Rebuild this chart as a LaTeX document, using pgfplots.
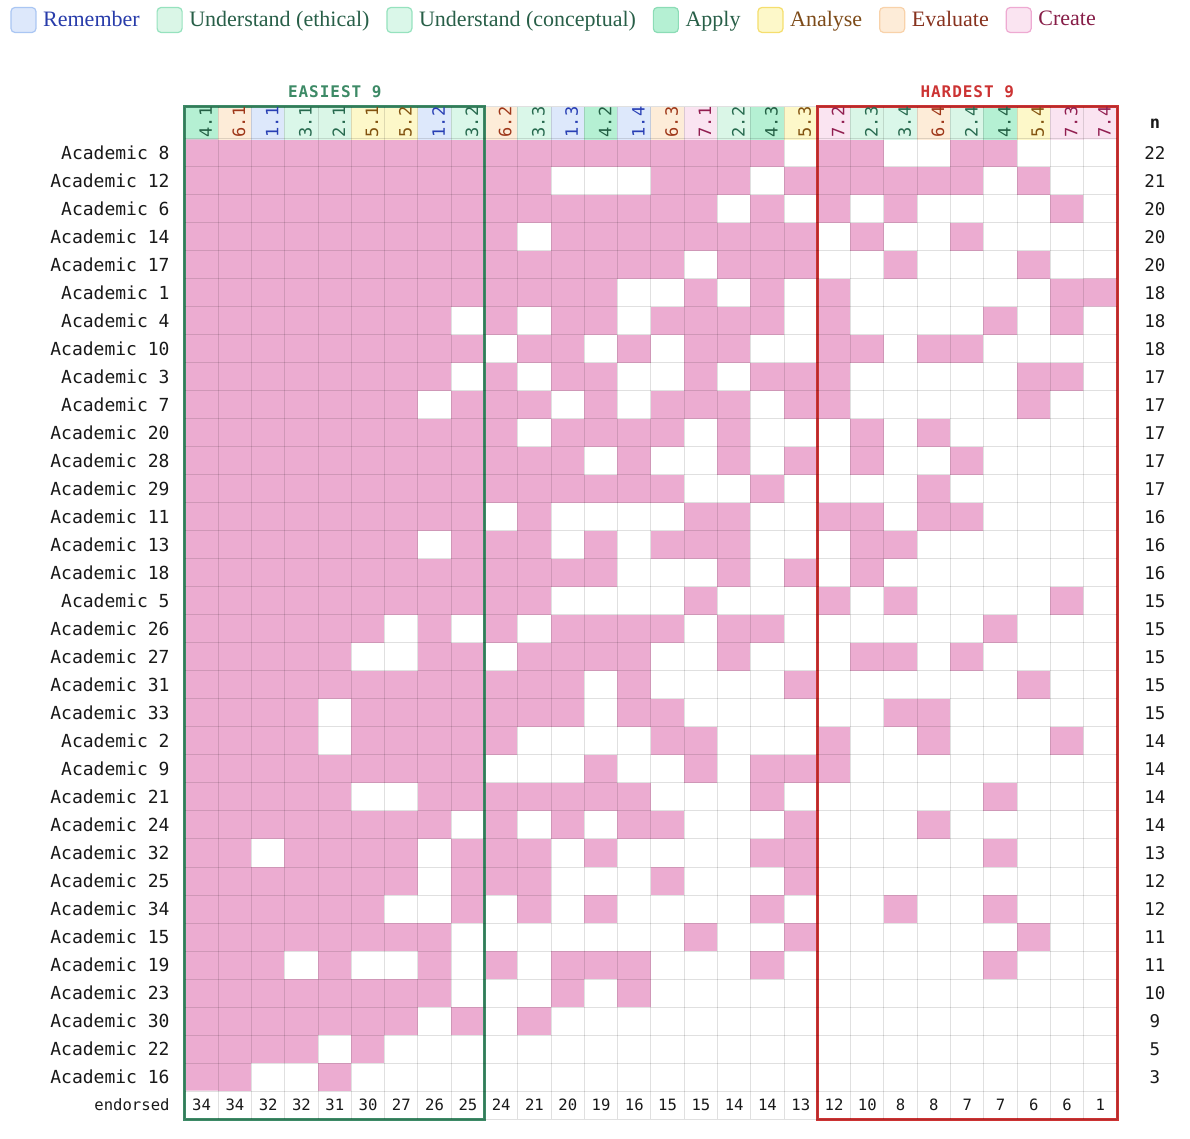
\documentclass[border=0pt]{standalone}
\usepackage{pgfplots}
\pgfplotsset{compat=1.18}
\usepackage{pgfplotstable}
\usepackage{fontspec}
\setmainfont{Liberation Serif}
\newfontfamily\mono{DejaVu Sans Mono}
\newfontfamily\monotitle{DejaVu Sans Mono}[LetterSpace=6]

% cell and category colours
\definecolor{cellpink}{RGB}{236,172,209}
\definecolor{remfill}{RGB}{221,232,251}\definecolor{remdraw}{RGB}{170,198,243}\definecolor{remtxt}{RGB}{40,60,170}
\definecolor{uetfill}{RGB}{218,246,231}\definecolor{uetdraw}{RGB}{150,226,190}\definecolor{uettxt}{RGB}{40,95,72}
\definecolor{ucofill}{RGB}{218,247,233}\definecolor{ucodraw}{RGB}{150,226,190}\definecolor{ucotxt}{RGB}{40,95,72}
\definecolor{apfill}{RGB}{181,240,211}\definecolor{apdraw}{RGB}{140,220,182}\definecolor{aptxt}{RGB}{40,95,72}
\definecolor{anfill}{RGB}{253,248,201}\definecolor{andraw}{RGB}{245,222,110}\definecolor{antxt}{RGB}{125,75,25}
\definecolor{evfill}{RGB}{253,236,216}\definecolor{evdraw}{RGB}{248,210,170}\definecolor{evtxt}{RGB}{135,50,30}
\definecolor{crfill}{RGB}{250,228,241}\definecolor{crdraw}{RGB}{238,170,210}\definecolor{crtxt}{RGB}{135,30,72}
% header label colours, indexed by category
\definecolor{lab2}{RGB}{40,62,180}
\definecolor{lab3}{RGB}{38,105,78}
\definecolor{lab4}{RGB}{38,105,78}
\definecolor{lab5}{RGB}{35,95,68}
\definecolor{lab6}{RGB}{130,82,15}
\definecolor{lab7}{RGB}{158,55,25}
\definecolor{lab8}{RGB}{145,30,80}
\definecolor{easygreen}{RGB}{61,138,102}
\definecolor{hardred}{RGB}{204,51,51}

% outcomes: label, Bloom category (2 remember ... 8 create), number endorsing
\pgfplotstableread{
col label cat endorsed
1 4.1 5 34
2 6.1 7 34
3 1.1 2 32
4 3.1 4 32
5 2.1 3 31
6 5.1 6 30
7 5.2 6 27
8 1.2 2 26
9 3.2 4 25
10 6.2 7 24
11 3.3 4 21
12 1.3 2 20
13 4.2 5 19
14 1.4 2 16
15 6.3 7 15
16 7.1 8 15
17 2.2 3 14
18 4.3 5 14
19 5.3 6 13
20 7.2 8 12
21 2.3 3 10
22 3.4 4 8
23 6.4 7 8
24 2.4 3 7
25 4.4 5 7
26 5.4 6 6
27 7.3 8 6
28 7.4 8 1
}\headers

% one row per academic: id, total endorsed, then the 28 outcomes (1 = endorsed)
\pgfplotstableread{
acad n c1 c2 c3 c4 c5 c6 c7 c8 c9 c10 c11 c12 c13 c14 c15 c16 c17 c18 c19 c20 c21 c22 c23 c24 c25 c26 c27 c28
8 22  1 1 1 1 1 1 1 1 1  1 1 1 1 1 1 1 1 1 0  1 1 0 0 1 1 0 0 0
12 21 1 1 1 1 1 1 1 1 1  1 1 0 0 0 1 1 1 0 1  1 1 1 1 1 0 1 0 0
6 20  1 1 1 1 1 1 1 1 1  1 1 1 1 1 1 1 0 1 0  1 0 1 0 0 0 0 1 0
14 20 1 1 1 1 1 1 1 1 1  1 0 1 1 1 1 1 1 1 1  0 1 0 0 1 0 0 0 0
17 20 1 1 1 1 1 1 1 1 1  1 1 1 1 1 1 0 1 1 1  0 0 1 0 0 0 1 0 0
1 18  1 1 1 1 1 1 1 1 1  1 1 1 1 0 0 1 0 1 0  1 0 0 0 0 0 0 1 1
4 18  1 1 1 1 1 1 1 1 0  1 0 1 1 0 1 1 1 1 0  1 0 0 0 0 1 0 1 0
10 18 1 1 1 1 1 1 1 1 1  0 1 1 0 1 0 1 1 0 0  1 1 0 1 1 0 0 0 0
3 17  1 1 1 1 1 1 1 1 0  1 0 1 1 0 0 1 0 1 1  1 0 0 0 0 0 1 1 0
7 17  1 1 1 1 1 1 1 0 1  1 1 0 1 0 1 1 1 0 1  1 0 0 0 0 0 1 0 0
20 17 1 1 1 1 1 1 1 1 1  1 0 1 1 1 1 0 1 0 0  0 1 0 1 0 0 0 0 0
28 17 1 1 1 1 1 1 1 1 1  1 1 1 0 1 0 0 1 0 1  0 1 0 0 1 0 0 0 0
29 17 1 1 1 1 1 1 1 1 1  1 1 1 1 1 1 0 0 1 0  0 0 0 1 0 0 0 0 0
11 16 1 1 1 1 1 1 1 1 1  0 1 0 0 0 0 1 1 0 0  1 1 0 1 1 0 0 0 0
13 16 1 1 1 1 1 1 1 0 1  1 1 0 1 0 1 1 1 0 0  0 1 1 0 0 0 0 0 0
18 16 1 1 1 1 1 1 1 1 1  1 1 1 1 0 0 0 1 0 1  0 1 0 0 0 0 0 0 0
5 15  1 1 1 1 1 1 1 1 1  1 1 0 0 0 0 1 0 0 0  1 0 1 0 0 0 0 1 0
26 15 1 1 1 1 1 1 0 1 0  1 0 1 1 1 1 0 1 1 0  0 0 0 0 0 1 0 0 0
27 15 1 1 1 1 1 0 0 1 1  0 1 1 1 1 0 0 1 0 0  0 1 1 0 1 0 0 0 0
31 15 1 1 1 1 1 1 1 1 1  1 1 1 0 1 0 0 0 0 1  0 0 0 0 0 0 1 0 0
33 15 1 1 1 1 0 1 1 1 1  1 1 1 0 1 1 0 0 0 0  0 0 1 1 0 0 0 0 0
2 14  1 1 1 1 0 1 1 1 1  1 0 0 0 0 1 1 0 0 0  1 0 0 1 0 0 0 1 0
9 14  1 1 1 1 1 1 1 1 1  0 0 0 1 0 0 1 0 1 1  1 0 0 0 0 0 0 0 0
21 14 1 1 1 1 1 0 0 1 1  1 1 1 1 1 0 0 0 1 0  0 0 0 0 0 1 0 0 0
24 14 1 1 1 1 1 1 1 1 0  1 0 1 0 1 1 0 0 0 1  0 0 0 1 0 0 0 0 0
32 13 1 1 0 1 1 1 1 0 1  1 1 0 1 0 0 0 0 1 1  0 0 0 0 0 1 0 0 0
25 12 1 1 1 1 1 1 1 0 1  1 1 0 0 0 1 0 0 0 1  0 0 0 0 0 0 0 0 0
34 12 1 1 1 1 1 1 0 0 1  0 1 0 1 0 0 0 0 1 0  0 0 1 0 0 1 0 0 0
15 11 1 1 1 1 1 1 1 1 0  0 0 0 0 0 0 1 0 0 1  0 0 0 0 0 0 1 0 0
19 11 1 1 1 0 1 0 0 1 0  1 0 1 1 1 0 0 0 1 0  0 0 0 0 0 1 0 0 0
23 10 1 1 1 1 1 1 1 1 0  0 0 1 0 1 0 0 0 0 0  0 0 0 0 0 0 0 0 0
30 9  1 1 1 1 1 1 1 0 1  0 1 0 0 0 0 0 0 0 0  0 0 0 0 0 0 0 0 0
22 5  1 1 1 1 0 1 0 0 0  0 0 0 0 0 0 0 0 0 0  0 0 0 0 0 0 0 0 0
16 3  1 1 0 0 1 0 0 0 0  0 0 0 0 0 0 0 0 0 0  0 0 0 0 0 0 0 0 0
}\academics

% cell list for the body: rows 1..34 academics, row 35 the totals row
\def\bodycoords{}
\pgfplotsforeachungrouped \rowi in {0,...,33}{%
  \pgfmathtruncatemacro\yy{\rowi+1}%
  \pgfplotsforeachungrouped \coli in {1,...,28}{%
    \pgfmathtruncatemacro\colidx{\coli+1}%
    \pgfplotstablegetelem{\rowi}{[index]\colidx}\of\academics
    \edef\bodycoords{\bodycoords (\coli,\yy) [\pgfplotsretval]}%
  }%
}
\pgfplotsforeachungrouped \coli in {1,...,28}{%
  \edef\bodycoords{\bodycoords (\coli,35) [0]}%
}
% header strip, two half rows so it is a little taller than a body row
\def\headcoords{}
\pgfplotsforeachungrouped \yy in {-0.357,0.214}{%
  \pgfplotsforeachungrouped \rowi in {0,...,27}{%
    \pgfmathtruncatemacro\coli{\rowi+1}%
    \pgfplotstablegetelem{\rowi}{cat}\of\headers
    \edef\headcoords{\headcoords (\coli,\yy) [\pgfplotsretval]}%
  }%
}

\begin{document}
\begin{tikzpicture}
\begin{axis}[
  x=16.643pt, y=14pt, y dir=reverse,
  xmin=0.5, xmax=28.5, ymin=-0.643, ymax=35.5,
  enlargelimits=false, clip=false, axis on top,
  axis line style={draw=none},
  xtick={0.5,1.5,...,28.5}, xticklabels={},
  xmajorgrids,
  ytick={1,...,35},
  yticklabels={Academic 8,Academic 12,Academic 6,Academic 14,Academic 17,Academic 1,Academic 4,Academic 10,Academic 3,Academic 7,Academic 20,Academic 28,Academic 29,Academic 11,Academic 13,Academic 18,Academic 5,Academic 26,Academic 27,Academic 31,Academic 33,Academic 2,Academic 9,Academic 21,Academic 24,Academic 32,Academic 25,Academic 34,Academic 15,Academic 19,Academic 23,Academic 30,Academic 22,Academic 16,{\fontsize{7.8}{9}\selectfont endorsed}},
  major tick length=0pt, minor tick length=0pt,
  yticklabel style={font=\mono\fontsize{9}{10}\selectfont, anchor=east, inner sep=0pt, xshift=-7.5pt, text=black!90},
  minor ytick={-0.643,0.5,1.5,...,35.5},
  yminorgrids,
  major grid style={black, opacity=0.12, line width=0.5pt},
  minor grid style={black, opacity=0.12, line width=0.5pt},
  colormap={cellmap}{rgb255=(255,255,255) rgb255=(236,172,209) rgb255=(221,232,251) rgb255=(218,246,231) rgb255=(218,247,233) rgb255=(181,240,211) rgb255=(253,248,201) rgb255=(253,236,216) rgb255=(250,228,241)},
  colormap access=direct,
  legend columns=7,
  legend image code/.code={\draw[#1, rounded corners=2pt, line width=0.6pt] (0pt,-6.25pt) rectangle (12.5pt,6.25pt);},
  legend style={at={(axis cs:-4.757,-3.75)}, anchor=west, draw=none, fill=none, inner sep=0pt,
    font=\fontsize{11}{13}\selectfont, nodes={inner sep=0pt},
    /tikz/every odd column/.append style={column sep=3.3pt},
    /tikz/every even column/.append style={column sep=8.4pt}},
  legend cell align=left,
]
\addlegendimage{fill=remfill, draw=remdraw}\addlegendentry{\textcolor{remtxt}{Remember}}
\addlegendimage{fill=uetfill, draw=uetdraw}\addlegendentry{\textcolor{uettxt}{Understand (ethical)}}
\addlegendimage{fill=ucofill, draw=ucodraw}\addlegendentry{\textcolor{ucotxt}{Understand (conceptual)}}
\addlegendimage{fill=apfill, draw=apdraw}\addlegendentry{\textcolor{aptxt}{Apply}}
\addlegendimage{fill=anfill, draw=andraw}\addlegendentry{\textcolor{antxt}{Analyse}}
\addlegendimage{fill=evfill, draw=evdraw}\addlegendentry{\textcolor{evtxt}{Evaluate}}
\addlegendimage{fill=crfill, draw=crdraw}\addlegendentry{\textcolor{crtxt}{Create}}

% endorsement grid
\edef\temp{\noexpand\addplot[forget plot, matrix plot*, mesh/cols=28, point meta=explicit] coordinates {\bodycoords};}\temp
% header strip coloured by category
\edef\temp{\noexpand\addplot[forget plot, matrix plot*, mesh/cols=28, point meta=explicit] coordinates {\headcoords};}\temp

% outcome labels in the header
\addplot[forget plot, draw=none, mark=none, point meta=explicit symbolic,
  visualization depends on={\thisrow{cat}\as\catid},
  nodes near coords={\pgfmathtruncatemacro\catno{\catid}\textcolor{lab\catno}{\pgfplotspointmeta}},
  nodes near coords align={west},
  every node near coord/.append style={rotate=90, font=\mono\fontsize{8.5}{9}\selectfont, inner sep=0pt}]
  table[x expr=\thisrow{col}+0.12, y expr=0.46, meta=label] {\headers};

% column totals
\addplot[forget plot, draw=none, mark=none, point meta=explicit symbolic,
  nodes near coords, nodes near coords align={center},
  every node near coord/.append style={font=\mono\fontsize{7.8}{9}\selectfont, inner sep=0pt, text=black!90}]
  table[x=col, y expr=35, meta=endorsed] {\headers};

% row totals
\addplot[forget plot, draw=none, mark=none, point meta=explicit symbolic,
  nodes near coords, nodes near coords align={center},
  every node near coord/.append style={font=\mono\fontsize{8.75}{10}\selectfont, inner sep=0pt, text=black!90}]
  table[x expr=29.64, y expr=\coordindex+1, meta=n] {\academics};
\node[font=\mono\bfseries\fontsize{8.5}{10}\selectfont, text=black!90] at (axis cs:29.64,-0.05) {n};

% easiest / hardest frames
\draw[easygreen, line width=1.5pt] (axis cs:0.5,-0.643) rectangle (axis cs:9.5,35.5);
\draw[hardred, line width=1.5pt] (axis cs:19.5,-0.643) rectangle (axis cs:28.5,35.5);
\node[font=\monotitle\bfseries\fontsize{8}{10}\selectfont, text=easygreen] at (axis cs:5,-1.18) {EASIEST 9};
\node[font=\monotitle\bfseries\fontsize{8}{10}\selectfont, text=hardred] at (axis cs:24,-1.18) {HARDEST 9};

\coordinate (bbNW) at (axis cs:-5.057,-4.464);
\coordinate (bbSE) at (axis cs:30.693,36.179);
\end{axis}
\pgfresetboundingbox
\path[use as bounding box] (bbNW) rectangle (bbSE);
\end{tikzpicture}
\end{document}
